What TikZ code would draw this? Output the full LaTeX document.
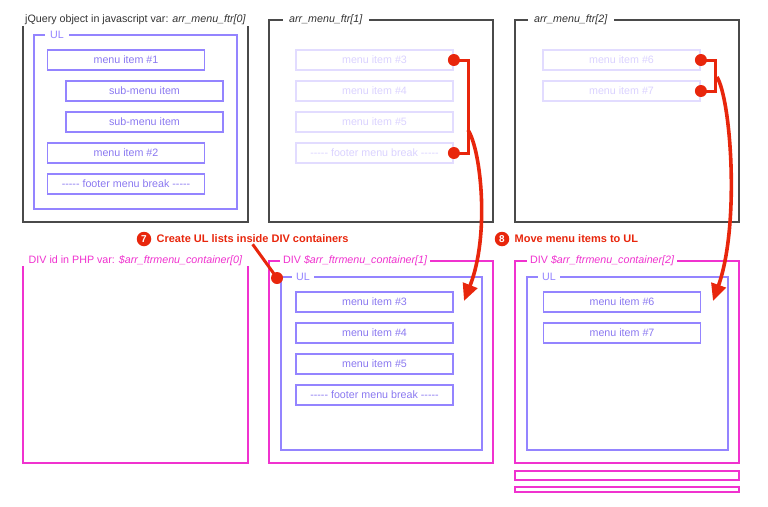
\documentclass[tikz,border=0pt]{standalone}
\usepackage{fontspec}
\setmainfont{Liberation Sans}
\usetikzlibrary{positioning,arrows.meta}
\definecolor{boxgray}{HTML}{4A4A4A}
\definecolor{titlegray}{HTML}{333333}
\definecolor{ulpurple}{HTML}{9484FF}
\definecolor{itempurple}{HTML}{8A78F0}
\definecolor{fadepurple}{HTML}{E2DCFF}
\definecolor{fadetext}{HTML}{DAD2FF}
\definecolor{divpink}{HTML}{F032CF}
\definecolor{stepred}{HTML}{E8260C}
\newcommand\fivedash{{-}{-}{-}{-}{-}}
\begin{document}
\begin{tikzpicture}[x=1pt, y=-1pt, >={Triangle[length=17pt,width=15pt]},
  font=\fontsize{10.7}{12}\selectfont,
  blackbox/.style={draw=boxgray, line width=1.6pt},
  ulbox/.style={draw=ulpurple, line width=1.8pt},
  divbox/.style={draw=divpink, line width=1.9pt},
  item/.style={draw=ulpurple, line width=1.8pt, text=itempurple, minimum width=157pt, minimum height=20pt, inner sep=0pt},
  fadeitem/.style={item, draw=fadepurple, text=fadetext},
  boxtitle/.style={fill=white, inner sep=0pt, inner xsep=4pt, minimum height=12pt, anchor=west},
  redline/.style={draw=stepred, line width=3pt},
  stepnum/.style={circle, fill=stepred, text=white, font=\fontsize{10}{12}\selectfont\bfseries, inner sep=0pt, minimum size=14.5pt},
  steplabel/.style={text=stepred, font=\fontsize{11}{12}\selectfont\bfseries, inner sep=1pt}]
\useasboundingbox (0,0) rectangle (768,506);

% jQuery objects
\draw[blackbox] (23,20) rectangle (248,222);
\node[boxtitle, text=titlegray, minimum width=227pt, anchor=center] (t0) at (135.5,20) {jQuery object in javascript var: \textit{arr\_menu\_ftr[0]}};
\draw[ulbox] (34,35) rectangle (237,209);
\node[boxtitle, text=ulpurple, inner xsep=5pt] (ul0) at (45,35) {UL};
\node[item] (m1) at (126,60) {menu item \#1};
\node[item] (s1) at (144.5,91) {sub-menu item};
\node[item] (s2) at (144.5,122) {sub-menu item};
\node[item] (m2) at (126,153) {menu item \#2};
\node[item] (f0) at (126,184) {\fivedash{} footer menu break \fivedash};

\draw[blackbox] (269,20) rectangle (493,222);
\node[boxtitle, text=titlegray, inner xsep=6pt] (t1) at (283,20) {\textit{arr\_menu\_ftr[1]}};
\foreach \n [count=\i from 0] in {3,4,5}
{
    \node[fadeitem] (a\n) at (374.5,60+31*\i) {menu item \#\n};
}
\node[fadeitem] (af) at (374.5,153) {\fivedash{} footer menu break \fivedash};

\draw[blackbox] (515,20) rectangle (739,222);
\node[boxtitle, text=titlegray, inner xsep=6pt] (t2) at (528,20) {\textit{arr\_menu\_ftr[2]}};
\node[fadeitem] (a6) at (621.5,60) {menu item \#6};
\node[fadeitem] (a7) at (621.5,91) {menu item \#7};

% DIV containers
\draw[divbox] (23,261) rectangle (248,463);
\node[boxtitle, text=divpink, minimum width=227pt, minimum height=10pt, anchor=center] (d0) at (135.5,261) {DIV id in PHP var: \textit{\$arr\_ftrmenu\_container[0]}};

\draw[divbox] (269,261) rectangle (493,463);
\node[boxtitle, text=divpink, inner xsep=3pt] (d1) at (280,261) {DIV \textit{\$arr\_ftrmenu\_container[1]}};
\draw[ulbox] (281,277) rectangle (482,450);
\node[boxtitle, text=ulpurple] (ul1) at (292,277) {UL};
\foreach \n [count=\i from 0] in {3,4,5}
{
    \node[item] (b\n) at (374.5,302+31*\i) {menu item \#\n};
}
\node[item] (bf) at (374.5,395) {\fivedash{} footer menu break \fivedash};

\draw[divbox] (515,261) rectangle (739,463);
\node[boxtitle, text=divpink, inner xsep=3pt] (d2) at (527,261) {DIV \textit{\$arr\_ftrmenu\_container[2]}};
\draw[ulbox] (527,277) rectangle (728,450);
\node[boxtitle, text=ulpurple] (ul2) at (538,277) {UL};
\node[item] (b6) at (622,302) {menu item \#6};
\node[item] (b7) at (622,333) {menu item \#7};
\draw[divbox] (515,471) rectangle (739,480);
\draw[divbox] (515,487) rectangle (739,492);

% steps
\node[stepnum] (n7) at (144,239) {7};
\node[steplabel, right=4pt of n7] (l7) {Create UL lists inside DIV containers};
\node[stepnum] (n8) at (502,239) {8};
\node[steplabel, right=4pt of n8] (l8) {Move menu items to UL};

\coordinate (u1) at (277,278);
\draw[redline] (l7.south) -- (u1);
\fill[stepred] (u1) circle (6);

\draw[redline] (a3.east) -- ++(15,0) |- (af.east);
\fill[stepred] (a3.east) circle (6);
\fill[stepred] (af.east) circle (6);
\coordinate (c1) at (468,130);
\coordinate (e1) at (464,301);
\draw[redline, line width=3.6pt, ->] (c1) .. controls (481,150) and (490,235) .. (e1);

\draw[redline] (a6.east) -- ++(15,0) |- (a7.east);
\fill[stepred] (a6.east) circle (6);
\fill[stepred] (a7.east) circle (6);
\coordinate (c2) at (717,77);
\coordinate (e2) at (713,301);
\draw[redline, line width=3.6pt, ->] (c2) .. controls (731,100) and (740,225) .. (e2);
\end{tikzpicture}
\end{document}
